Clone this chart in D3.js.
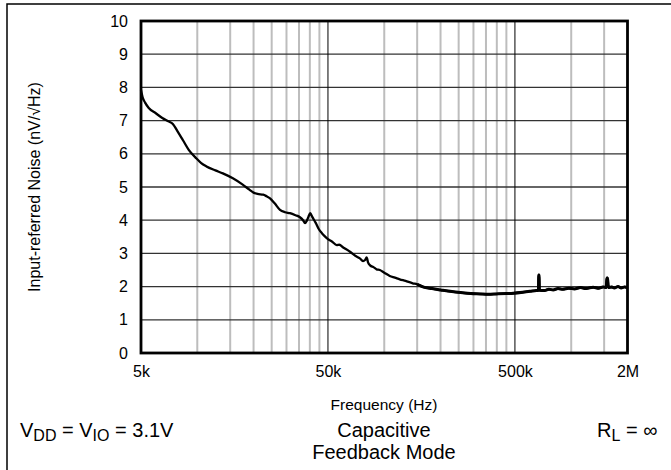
<!DOCTYPE html>
<html>
<head>
<meta charset="utf-8">
<script src="https://cdn.jsdelivr.net/npm/d3@7"></script>
<style>
  body { margin: 0; background: #fff; }
  text { font-family: "Liberation Sans", Arial, sans-serif; fill: #000; }
</style>
</head>
<body>
<svg id="chart" width="671" height="470"></svg>
<script>

// frequency (Hz) and input-referred noise (nV/rtHz)
var freqs = [
    5000, 5100, 5250, 5500, 6000, 6500, 7000, 7400, 7800, 8400,
    9000, 9900, 10500, 11200, 12500, 13700, 15500, 17500, 19000, 20000,
    21000, 22500, 23500, 24500, 26000, 27700, 29500, 31300, 33500, 35400,
    36800, 37700, 38500, 39300, 40200, 41200, 43000, 44800, 46400, 48000,
    50000, 52500, 55700, 57500, 60300, 65600, 70000, 74000, 77000, 79000,
    80500, 82000, 84000, 88000, 91000, 94700, 100000, 107000, 114000, 121000,
    130000, 142000, 150000, 161000, 180000, 200000, 230000, 256000, 290000, 325000,
    360000, 400000, 450000, 490000, 550000, 600000, 650000, 668000, 670000, 673000,
    676000, 720000, 760000, 800000, 850000, 900000, 970000, 1040000, 1120000, 1200000,
    1310000, 1400000, 1480000, 1540000, 1550000, 1565000, 1580000, 1650000, 1700000, 1780000,
    1850000, 1930000, 2000000
];
var noise = [
    7.92, 7.70, 7.55, 7.38, 7.22, 7.08, 6.98, 6.90, 6.70, 6.40,
    6.12, 5.86, 5.72, 5.62, 5.50, 5.41, 5.26, 5.07, 4.92, 4.83,
    4.79, 4.77, 4.72, 4.66, 4.50, 4.31, 4.24, 4.21, 4.15, 4.09,
    4.00, 3.91, 3.98, 4.10, 4.21, 4.10, 3.92, 3.72, 3.61, 3.52,
    3.43, 3.36, 3.25, 3.26, 3.18, 3.05, 2.93, 2.85, 2.77, 2.80,
    2.88, 2.72, 2.64, 2.58, 2.52, 2.50, 2.42, 2.32, 2.27, 2.22,
    2.17, 2.10, 2.07, 1.99, 1.94, 1.90, 1.85, 1.82, 1.79, 1.78,
    1.77, 1.78, 1.79, 1.80, 1.83, 1.86, 1.88, 1.89, 2.35, 2.35,
    1.89, 1.88, 1.92, 1.90, 1.94, 1.92, 1.95, 1.93, 1.97, 1.94,
    1.98, 1.95, 1.99, 1.97, 2.26, 2.26, 1.97, 1.99, 1.96, 2.00,
    1.96, 1.99, 1.96
];

var xTickValues = [5000, 50000, 500000, 2000000];
var xTickLabels = ["5k", "50k", "500k", "2M"];
var yTickValues = [0, 1, 2, 3, 4, 5, 6, 7, 8, 9, 10];

var svg = d3.select("#chart");

var plotL = 141, plotR = 627.5, plotT = 21, plotB = 353;

var x = d3.scaleLog().domain([5000, 2000000]).range([plotL, plotR]);
var y = d3.scaleLinear().domain([0, 10]).range([plotB, plotT]);

// outer frame (top and left edges only)
svg.append("path")
    .attr("d", "M 7 470 L 7 4 L 671 4")
    .style("fill", "none")
    .style("stroke", "#000")
    .style("stroke-width", "1.5");

// minor vertical grid: 2..9 times each decade start
var minorX = [];
[5000, 50000, 500000].forEach(function(base){
    for (var k = 2; k <= 9; k++) {
        if (base * k < 2000000) minorX.push(base * k);
    }
});

svg.append("g").selectAll("line")
    .data(minorX)
    .enter().append("line")
    .attr("x1", function(d){ return x(d); })
    .attr("x2", function(d){ return x(d); })
    .attr("y1", plotT)
    .attr("y2", plotB)
    .style("stroke", "#bdbdbd")
    .style("stroke-width", "2");

// horizontal grid
svg.append("g").selectAll("line")
    .data(yTickValues.slice(1, -1))
    .enter().append("line")
    .attr("x1", plotL)
    .attr("x2", plotR)
    .attr("y1", function(d){ return y(d); })
    .attr("y2", function(d){ return y(d); })
    .style("stroke", "#333")
    .style("stroke-width", "1.3");

// major vertical grid
svg.append("g").selectAll("line")
    .data([50000, 500000])
    .enter().append("line")
    .attr("x1", function(d){ return x(d); })
    .attr("x2", function(d){ return x(d); })
    .attr("y1", plotT)
    .attr("y2", plotB)
    .style("stroke", "#000")
    .style("stroke-width", "1");

// noise curve
var pts = freqs.map(function(f, i){ return [f, noise[i]]; });
var line = d3.line()
    .x(function(d){ return x(d[0]); })
    .y(function(d){ return y(d[1]); })
    .curve(d3.curveMonotoneX);

svg.append("path")
    .datum(pts)
    .attr("d", line)
    .style("fill", "none")
    .style("stroke", "#000")
    .style("stroke-width", "2.3")
    .style("stroke-linejoin", "round");

// the measured trace gets fuzzy above ~150k, draw that part heavier
svg.append("path")
    .datum(pts.filter(function(d){ return d[0] >= 150000; }))
    .attr("d", line)
    .style("fill", "none")
    .style("stroke", "#000")
    .style("stroke-width", "3")
    .style("stroke-linejoin", "round");

// plot frame
svg.append("rect")
    .attr("x", plotL)
    .attr("y", plotT)
    .attr("width", plotR - plotL)
    .attr("height", plotB - plotT)
    .style("fill", "none")
    .style("stroke", "#000")
    .style("stroke-width", "2.8");

// axes
var xAxis = d3.axisBottom(x)
    .tickValues(xTickValues)
    .tickFormat(function(d, i){ return xTickLabels[i]; })
    .tickSize(0)
    .tickPadding(13);

var gx = svg.append("g")
    .attr("transform", "translate(0," + plotB + ")")
    .call(xAxis);
gx.select(".domain").remove();
gx.selectAll("text").style("font-size", "16px").style("font-family", "Liberation Sans, Arial, sans-serif");

var yAxis = d3.axisLeft(y)
    .tickValues(yTickValues)
    .tickSize(0)
    .tickPadding(13);

var gy = svg.append("g")
    .attr("transform", "translate(" + plotL + ",0)")
    .call(yAxis);
gy.select(".domain").remove();
gy.selectAll("text").style("font-size", "16px").style("font-family", "Liberation Sans, Arial, sans-serif");

// axis titles
svg.append("text")
    .attr("x", 384)
    .attr("y", 410)
    .attr("text-anchor", "middle")
    .style("font-size", "15.5px")
    .text("Frequency (Hz)");

svg.append("text")
    .attr("transform", "translate(40," + ((plotT + plotB) / 2) + ") rotate(-90)")
    .attr("text-anchor", "middle")
    .style("font-size", "16px")
    .text("Input-referred Noise (nV/\u221AHz)");

// condition notes
var vdd = svg.append("text")
    .attr("x", 20)
    .attr("y", 437)
    .style("font-size", "20px");
vdd.append("tspan").text("V");
vdd.append("tspan").attr("dy", 4).style("font-size", "16px").text("DD");
vdd.append("tspan").attr("dy", -4).text(" = V");
vdd.append("tspan").attr("dy", 4).style("font-size", "16px").text("IO");
vdd.append("tspan").attr("dy", -4).text(" = 3.1V");

svg.append("text")
    .attr("x", 384)
    .attr("y", 437)
    .attr("text-anchor", "middle")
    .style("font-size", "20px")
    .text("Capacitive");

svg.append("text")
    .attr("x", 384)
    .attr("y", 459)
    .attr("text-anchor", "middle")
    .style("font-size", "20px")
    .text("Feedback Mode");

var rl = svg.append("text")
    .attr("x", 597)
    .attr("y", 437)
    .style("font-size", "20px");
rl.append("tspan").text("R");
rl.append("tspan").attr("dy", 4).style("font-size", "16px").text("L");
rl.append("tspan").attr("dy", -4).text(" = \u221E");

</script>
</body>
</html>
